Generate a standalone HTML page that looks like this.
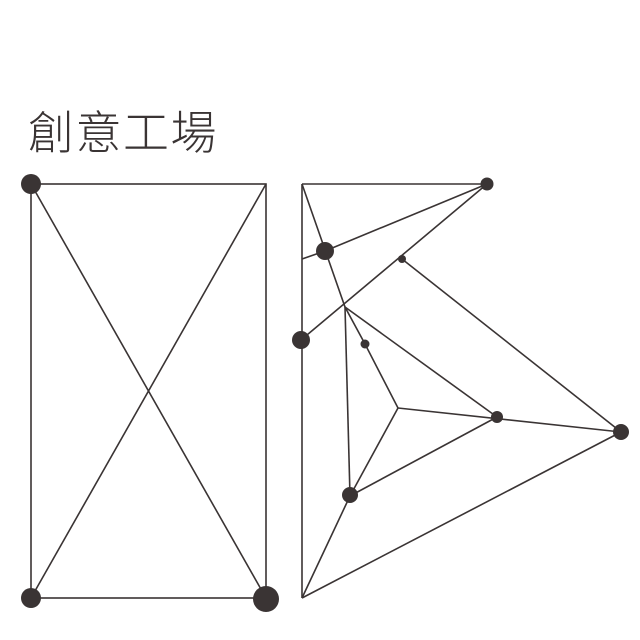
<!DOCTYPE html>
<html><head><meta charset="utf-8"><style>
html,body{margin:0;padding:0;background:#fff;width:640px;height:640px;overflow:hidden}
.t{position:absolute;left:28px;top:104px;font-family:"Liberation Sans","Noto Sans CJK TC",sans-serif;font-weight:300;font-size:46px;color:#3a3434;letter-spacing:1.5px;line-height:58px}
svg{position:absolute;left:0;top:0}
</style></head><body>
<div class="t">創意工場</div>
<svg width="640" height="640">
<g stroke="#3a3434" stroke-width="1.6" fill="none">
<rect x="31" y="184" width="235" height="414"/>
<line x1="31" y1="184" x2="266" y2="598"/>
<line x1="266" y1="184" x2="31" y2="598"/>
<line x1="302" y1="184" x2="302" y2="598"/>
<line x1="302" y1="184" x2="487" y2="184"/>
<polyline points="302,184 345,307 365,344 398,408"/>
<line x1="302" y1="259" x2="325" y2="251"/>
<line x1="325" y1="251" x2="487" y2="184"/>
<line x1="301" y1="340" x2="487" y2="184"/>
<line x1="402" y1="259" x2="621" y2="432"/>
<line x1="345" y1="307" x2="497" y2="417"/>
<line x1="345" y1="307" x2="350" y2="496"/>
<line x1="398" y1="408" x2="621" y2="432"/>
<line x1="398" y1="408" x2="350" y2="496"/>
<line x1="350" y1="496" x2="497" y2="417"/>
<line x1="350" y1="496" x2="302" y2="598"/>
<line x1="302" y1="598" x2="621" y2="432"/>
</g>
<g fill="#3a3434">
<circle cx="31" cy="184" r="10"/>
<circle cx="31" cy="598" r="10"/>
<circle cx="266" cy="599" r="13"/>
<circle cx="487" cy="184" r="6.5"/>
<circle cx="325" cy="251" r="9"/>
<circle cx="402" cy="259" r="4"/>
<circle cx="301" cy="340" r="9"/>
<circle cx="365" cy="344" r="4.5"/>
<circle cx="497" cy="417" r="6"/>
<circle cx="621" cy="432" r="8"/>
<circle cx="350" cy="495" r="8"/>
</g>
</svg>
</body></html>
